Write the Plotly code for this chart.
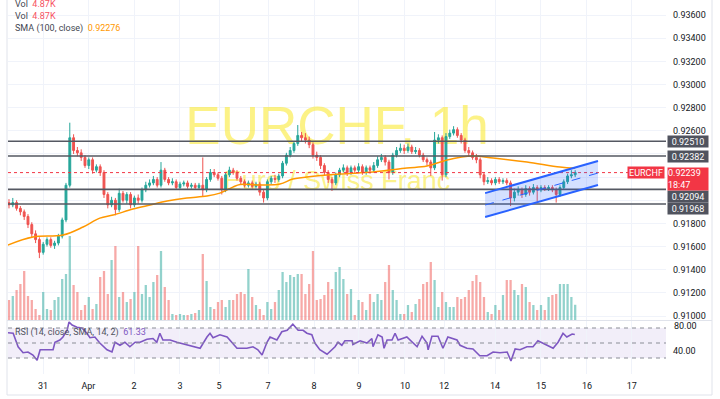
import plotly.graph_objects as go

# ---------------- data ----------------
tick_pos = [8.95, 20.9, 32.9, 45.0, 55.3, 68.2, 80.3, 92.1, 104.2, 114.5, 127.9, 140.0, 152.1, 163.9]
tick_text = ["31", "Apr", "2", "3", "5", "7", "8", "9", "10", "12", "14", "15", "16", "17"]

opens = [0.9198, 0.9196, 0.9198, 0.9193, 0.9190, 0.9186, 0.9179, 0.9171, 0.9166, 0.9155,
         0.9162, 0.9166, 0.9161, 0.9163, 0.9169, 0.9183, 0.9213, 0.9254, 0.9243, 0.9241,
         0.9237, 0.9230, 0.9235, 0.9226, 0.9229, 0.9224, 0.9205, 0.9196, 0.9200, 0.9192,
         0.9206, 0.9200, 0.9205, 0.9196, 0.9202, 0.9200, 0.9209, 0.9213, 0.9215, 0.9218,
         0.9213, 0.9226, 0.9218, 0.9215, 0.9216, 0.9211, 0.9214, 0.9215, 0.9212, 0.9213,
         0.9211, 0.9213, 0.9209, 0.9218, 0.9224, 0.9222, 0.9219, 0.9209, 0.9222, 0.9226,
         0.9224, 0.9219, 0.9216, 0.9213, 0.9215, 0.9212, 0.9214, 0.9207, 0.9202, 0.9216,
         0.9219, 0.9218, 0.9221, 0.9232, 0.9239, 0.9243, 0.9249, 0.9256, 0.9254, 0.9252,
         0.9248, 0.9239, 0.9237, 0.9230, 0.9224, 0.9218, 0.9215, 0.9222, 0.9226, 0.9228,
         0.9224, 0.9228, 0.9226, 0.9229, 0.9224, 0.9228, 0.9226, 0.9230, 0.9235, 0.9237,
         0.9233, 0.9224, 0.9239, 0.9243, 0.9245, 0.9243, 0.9246, 0.9242, 0.9243, 0.9239,
         0.9235, 0.9233, 0.9228, 0.9252, 0.9254, 0.9222, 0.9255, 0.9258, 0.9261, 0.9256,
         0.9252, 0.9243, 0.9241, 0.9237, 0.9235, 0.9222, 0.9216, 0.9217, 0.9215, 0.9218,
         0.9216, 0.9217, 0.9215, 0.9202, 0.9207, 0.9209, 0.9205, 0.9210, 0.9207, 0.9211,
         0.9209, 0.9211, 0.9210, 0.9211, 0.9209, 0.9205, 0.9211, 0.9216, 0.9221, 0.9222]

highs = [0.9201, 0.9202, 0.9200, 0.9195, 0.9192, 0.9188, 0.9181, 0.9174, 0.9168, 0.9164,
         0.9168, 0.9168, 0.9165, 0.9171, 0.9185, 0.9215, 0.9267, 0.9257, 0.9246, 0.9244,
         0.9239, 0.9237, 0.9237, 0.9231, 0.9231, 0.9226, 0.9207, 0.9203, 0.9202, 0.9210,
         0.9208, 0.9207, 0.9207, 0.9204, 0.9205, 0.9211, 0.9216, 0.9218, 0.9221, 0.9220,
         0.9233, 0.9228, 0.9220, 0.9219, 0.9218, 0.9216, 0.9217, 0.9217, 0.9215, 0.9215,
         0.9215, 0.9237, 0.9220, 0.9227, 0.9227, 0.9224, 0.9221, 0.9224, 0.9229, 0.9228,
         0.9226, 0.9221, 0.9218, 0.9217, 0.9217, 0.9216, 0.9216, 0.9209, 0.9218, 0.9221,
         0.9222, 0.9223, 0.9234, 0.9241, 0.9246, 0.9251, 0.9265, 0.9259, 0.9258, 0.9255,
         0.9250, 0.9242, 0.9239, 0.9232, 0.9226, 0.9220, 0.9224, 0.9228, 0.9231, 0.9230,
         0.9230, 0.9230, 0.9232, 0.9231, 0.9230, 0.9230, 0.9233, 0.9238, 0.9240, 0.9239,
         0.9235, 0.9241, 0.9246, 0.9249, 0.9248, 0.9249, 0.9248, 0.9246, 0.9245, 0.9241,
         0.9237, 0.9235, 0.9259, 0.9257, 0.9256, 0.9258, 0.9261, 0.9264, 0.9263, 0.9258,
         0.9254, 0.9246, 0.9243, 0.9240, 0.9237, 0.9224, 0.9220, 0.9219, 0.9220, 0.9220,
         0.9219, 0.9219, 0.9217, 0.9210, 0.9212, 0.9211, 0.9213, 0.9212, 0.9214, 0.9213,
         0.9213, 0.9213, 0.9213, 0.9213, 0.9211, 0.9213, 0.9218, 0.9223, 0.9226, 0.9226]

lows = [0.9193, 0.9194, 0.9191, 0.9187, 0.9183, 0.9176, 0.9168, 0.9163, 0.9150, 0.9153,
        0.9160, 0.9159, 0.9158, 0.9161, 0.9167, 0.9181, 0.9211, 0.9240, 0.9238, 0.9234,
        0.9228, 0.9227, 0.9223, 0.9224, 0.9221, 0.9202, 0.9193, 0.9194, 0.9187, 0.9190,
        0.9198, 0.9197, 0.9193, 0.9194, 0.9197, 0.9198, 0.9207, 0.9211, 0.9213, 0.9211,
        0.9211, 0.9216, 0.9213, 0.9213, 0.9209, 0.9209, 0.9212, 0.9210, 0.9210, 0.9209,
        0.9209, 0.9203, 0.9207, 0.9216, 0.9220, 0.9217, 0.9205, 0.9207, 0.9220, 0.9222,
        0.9217, 0.9214, 0.9211, 0.9211, 0.9210, 0.9210, 0.9204, 0.9198, 0.9200, 0.9214,
        0.9215, 0.9216, 0.9219, 0.9230, 0.9237, 0.9241, 0.9247, 0.9251, 0.9249, 0.9245,
        0.9236, 0.9234, 0.9227, 0.9221, 0.9215, 0.9208, 0.9213, 0.9220, 0.9224, 0.9221,
        0.9222, 0.9223, 0.9224, 0.9222, 0.9222, 0.9223, 0.9224, 0.9228, 0.9233, 0.9230,
        0.9218, 0.9222, 0.9237, 0.9241, 0.9240, 0.9241, 0.9240, 0.9240, 0.9237, 0.9233,
        0.9230, 0.9221, 0.9226, 0.9249, 0.9217, 0.9220, 0.9253, 0.9256, 0.9254, 0.9249,
        0.9241, 0.9238, 0.9235, 0.9232, 0.9219, 0.9213, 0.9214, 0.9213, 0.9213, 0.9214,
        0.9214, 0.9213, 0.9195, 0.9199, 0.9204, 0.9202, 0.9203, 0.9204, 0.9205, 0.9199,
        0.9207, 0.9208, 0.9208, 0.9207, 0.9198, 0.9203, 0.9209, 0.9214, 0.9219, 0.9220]

closes = [0.9196, 0.9198, 0.9193, 0.9190, 0.9186, 0.9179, 0.9171, 0.9166, 0.9155, 0.9162,
          0.9166, 0.9161, 0.9163, 0.9169, 0.9183, 0.9213, 0.9254, 0.9243, 0.9241, 0.9237,
          0.9230, 0.9235, 0.9226, 0.9229, 0.9224, 0.9205, 0.9196, 0.9200, 0.9192, 0.9206,
          0.9200, 0.9205, 0.9196, 0.9202, 0.9200, 0.9209, 0.9213, 0.9215, 0.9218, 0.9213,
          0.9226, 0.9218, 0.9215, 0.9216, 0.9211, 0.9214, 0.9215, 0.9212, 0.9213, 0.9211,
          0.9213, 0.9209, 0.9218, 0.9224, 0.9222, 0.9219, 0.9209, 0.9222, 0.9226, 0.9224,
          0.9219, 0.9216, 0.9213, 0.9215, 0.9212, 0.9214, 0.9207, 0.9202, 0.9216, 0.9219,
          0.9218, 0.9221, 0.9232, 0.9239, 0.9243, 0.9249, 0.9256, 0.9254, 0.9252, 0.9248,
          0.9239, 0.9237, 0.9230, 0.9224, 0.9218, 0.9215, 0.9222, 0.9226, 0.9228, 0.9224,
          0.9228, 0.9226, 0.9229, 0.9224, 0.9228, 0.9226, 0.9230, 0.9235, 0.9237, 0.9233,
          0.9224, 0.9239, 0.9243, 0.9245, 0.9243, 0.9246, 0.9242, 0.9243, 0.9239, 0.9235,
          0.9233, 0.9228, 0.9252, 0.9254, 0.9222, 0.9255, 0.9258, 0.9261, 0.9256, 0.9252,
          0.9243, 0.9241, 0.9237, 0.9235, 0.9222, 0.9216, 0.9217, 0.9215, 0.9218, 0.9216,
          0.9217, 0.9215, 0.9202, 0.9207, 0.9209, 0.9205, 0.9210, 0.9207, 0.9211, 0.9209,
          0.9211, 0.9210, 0.9211, 0.9209, 0.9205, 0.9211, 0.9216, 0.9221, 0.9222, 0.92239]

volumes = [6.3, 7.5, 9.3, 11.1, 15.0, 7.5, 6.3, 3.6, 1.8, 8.7,
           3.6, 3.3, 6.3, 7.2, 12.6, 14.1, 25.5, 10.8, 8.7, 3.3,
           4.8, 7.2, 3.6, 5.1, 13.2, 15.0, 8.1, 18.3, 22.5, 7.2,
           8.7, 5.7, 6.6, 8.7, 22.5, 8.1, 10.8, 7.2, 11.7, 13.8,
           21.0, 10.2, 6.3, 2.1, 1.8, 2.1, 1.8, 1.8, 2.1, 2.4,
           3.3, 20.1, 12.0, 4.2, 3.6, 5.7, 6.3, 4.2, 6.3, 6.3,
           8.1, 8.7, 8.1, 15.6, 7.2, 4.8, 3.6, 1.8, 5.7, 3.6,
           5.7, 9.3, 14.7, 11.7, 13.8, 13.2, 14.1, 14.1, 8.1, 11.1,
           21.0, 6.3, 6.6, 7.8, 11.7, 9.6, 14.7, 16.2, 12.6, 8.1,
           9.6, 1.8, 6.3, 5.7, 3.3, 8.1, 5.7, 8.1, 6.3, 11.7,
           16.8, 9.3, 6.3, 2.1, 2.1, 4.8, 2.7, 5.1, 6.6, 11.1,
           11.7, 17.7, 12.3, 4.2, 8.7, 5.7, 4.2, 4.2, 7.2, 6.6,
           7.2, 9.3, 12.0, 13.8, 11.7, 7.2, 2.7, 2.1, 4.8, 3.3,
           7.8, 12.3, 12.3, 9.3, 7.8, 11.1, 10.2, 5.7, 4.8, 3.3,
           4.8, 3.3, 7.2, 7.8, 8.1, 11.1, 11.1, 11.1, 7.2, 4.87]

sma_x = [-0.3, 6.3, 14.2, 19.5, 23.9, 27.4, 32.6, 37.1, 41.6, 46.8, 52.1, 55.5, 58.9, 60.8,
         66.1, 71.3, 74.7, 78.4, 87.1, 95.8, 104.7, 110.0, 115.3, 122.1, 127.4, 136.3, 145.0, 149.0]
sma_vals = [0.91613, 0.91682, 0.91700, 0.91769, 0.91846, 0.91872, 0.91924, 0.91959, 0.91993,
            0.92019, 0.92036, 0.92062, 0.92114, 0.92136, 0.92132, 0.92140, 0.92183, 0.92201,
            0.92227, 0.92244, 0.92278, 0.92296, 0.92348, 0.92382, 0.92365, 0.92330, 0.92287, 0.92276]

rsi_x = [-0.3, 1.1, 2.4, 3.7, 5.0, 6.3, 7.4, 7.6, 8.2, 10.0, 11.6, 12.1, 13.4, 14.2, 15.3, 15.8,
         16.6, 17.9, 19.2, 20.5, 21.3, 22.6, 23.9, 25.8, 27.1, 27.9, 29.2, 30.5, 31.8, 33.2, 34.5,
         36.3, 37.9, 38.9, 39.7, 40.5, 42.4, 44.2, 45.0, 48.4, 50.3, 52.1, 52.9, 53.7, 55.5, 57.4,
         58.9, 60.0, 62.6, 64.2, 65.5, 66.6, 67.9, 68.7, 70.5, 71.8, 73.2, 74.7, 76.1, 77.4, 78.4,
         79.7, 80.5, 81.8, 83.7, 85.0, 85.8, 86.6, 87.6, 88.4, 90.3, 90.5, 92.4, 94.2, 95.5, 95.8,
         97.1, 98.2, 98.7, 99.5, 100.8, 101.6, 102.4, 104.7, 107.4, 108.7, 110.0, 110.3, 111.3,
         112.9, 114.2, 115.5, 117.9, 118.7, 120.5, 122.1, 123.9, 125.8, 127.4, 129.2, 131.1, 132.1,
         133.2, 134.5, 136.3, 137.9, 139.2, 141.6, 143.2, 144.5, 145.8, 146.8, 148.2, 148.9]
rsi_vals = [63.7, 63, 45, 37, 38, 34, 27, 30, 41, 41, 41, 51, 54, 58, 67, 78,
            74, 71, 70, 63, 57, 58, 50, 41, 38, 51, 47, 51, 45, 51, 51,
            55, 56, 51, 63, 54, 54, 51, 50, 45, 43, 58, 63, 57, 61, 58,
            50, 43, 43, 45, 41, 34, 51, 58, 54, 65, 67, 75, 67, 67, 63,
            61, 50, 41, 35, 41, 45, 51, 47, 53, 53, 48, 53, 50, 56, 45,
            61, 58, 43, 54, 54, 63, 54, 58, 45, 59, 50, 41, 59,
            59, 43, 58, 54, 47, 43, 42, 33, 33, 38, 37, 38, 26,
            42, 41, 45, 45, 53, 47, 43, 51, 63, 58, 62, 61.33]

levels = [0.92510, 0.92382, 0.92094, 0.91968]
level_label_shift = [0, 0, -7, -5]
last_price = 0.92239
price_ticks = [0.910, 0.912, 0.914, 0.916, 0.918, 0.920, 0.922, 0.924, 0.926, 0.928,
               0.930, 0.932, 0.934, 0.936]
price_tick_text = ["0.91000", "0.91200", "0.91400", "0.91600", "0.91800", "", "", "",
                   "0.92600", "0.92800", "0.93000", "0.93200", "0.93400", "0.93600"]
channel_x = [125.3, 155.0]
channel_upper = [0.92062, 0.92339]
channel_lower = [0.91855, 0.92132]
channel_mid = [0.91959, 0.92235]

# ---------------- layout geometry ----------------
W, H = 720, 399
ML, MR, MT, MB = 8, 54, 0, 25
PW, PH = W - ML - MR, H - MT - MB          # 658 x 374
SPLIT_PX = 321                              # price / RSI pane boundary
XR = [-0.26, 172.9]
PR = [0.90957, 0.93730]
VOL_TOP = 96.3
RSI_R = [8.67, 79.33]

def pyp(p):   # pixel y -> paper
    return (PH - (p - MT)) / PH

def pxp(p):   # pixel x -> paper
    return (p - ML) / PW

def x_at(p):  # pixel x -> data x
    return XR[0] + (p - ML) / PW * (XR[1] - XR[0])

def v_at(p):  # pixel y -> volume-axis value
    return VOL_TOP * (SPLIT_PX - p) / SPLIT_PX

UP, DN = "#26a69a", "#ef5350"
FONT = "Roboto, Liberation Sans, Arial, sans-serif"

xs = list(range(len(closes)))
vol_colors = ["rgba(38,166,154,0.5)" if c >= o else "rgba(239,83,80,0.5)" for o, c in zip(opens, closes)]

fig = go.Figure()

# watermark (on base axis, so it sits beneath the candles)
fig.add_trace(go.Scatter(x=[x_at(337)], y=[v_at(131)], mode="text", text=["EURCHF, 1h"],
                         textfont=dict(size=53, color="rgba(250,234,60,0.62)",
                                       family="Liberation Sans, Arial"),
                         xaxis="x", yaxis="y", hoverinfo="skip"))
fig.add_trace(go.Scatter(x=[x_at(337)], y=[v_at(183)], mode="text", text=["Euro / Swiss Franc"],
                         textfont=dict(size=27, color="rgba(250,234,60,0.62)",
                                       family="Liberation Sans, Arial"),
                         xaxis="x", yaxis="y", hoverinfo="skip"))

# volume
fig.add_trace(go.Bar(x=xs, y=volumes, marker=dict(color=vol_colors, line=dict(width=0)),
                     width=0.6, xaxis="x", yaxis="y", hoverinfo="skip"))

# candles
fig.add_trace(go.Candlestick(x=xs, open=opens, high=highs, low=lows, close=closes,
                             increasing=dict(line=dict(color=UP, width=1), fillcolor=UP),
                             decreasing=dict(line=dict(color=DN, width=1), fillcolor=DN),
                             whiskerwidth=0, xaxis="x", yaxis="y2", hoverinfo="skip"))

# SMA 100
fig.add_trace(go.Scatter(x=sma_x, y=sma_vals, mode="lines", line=dict(color="#ff9800", width=1.5, shape="spline"),
                         xaxis="x", yaxis="y2", hoverinfo="skip"))

# RSI
fig.add_trace(go.Scatter(x=rsi_x, y=rsi_vals, mode="lines", line=dict(color="#7e57c2", width=1.6),
                         xaxis="x", yaxis="y3", hoverinfo="skip"))

shapes = []
# RSI band and dashed levels
shapes.append(dict(type="rect", xref="paper", yref="y3", x0=0, x1=1, y0=30, y1=70,
                   fillcolor="rgba(126,87,194,0.10)", line=dict(width=0), layer="below"))
for lv in (70, 50, 30):
    shapes.append(dict(type="line", xref="paper", yref="y3", x0=0, x1=1, y0=lv, y1=lv,
                       line=dict(color="#8a8d96", width=1, dash="4px,4px")))
# horizontal price levels
for lv in levels:
    shapes.append(dict(type="line", xref="paper", yref="y2", x0=0, x1=1, y0=lv, y1=lv,
                       line=dict(color="#555862", width=1.6)))
# last price dotted line
shapes.append(dict(type="line", xref="paper", yref="y2", x0=0, x1=pxp(629), y0=last_price, y1=last_price,
                   line=dict(color="#f23645", width=1, dash="dot")))
# channel
shapes.append(dict(type="path", xref="x", yref="y2",
                   path=f"M {channel_x[0]},{channel_lower[0]} L {channel_x[1]},{channel_lower[1]} "
                        f"L {channel_x[1]},{channel_upper[1]} L {channel_x[0]},{channel_upper[0]} Z",
                   fillcolor="rgba(41,98,255,0.2)", line=dict(width=0)))
for arr, dash, wdt in ((channel_upper, "solid", 2), (channel_lower, "solid", 2), (channel_mid, "dash", 1)):
    shapes.append(dict(type="line", xref="x", yref="y2", x0=channel_x[0], x1=channel_x[1],
                       y0=arr[0], y1=arr[1], line=dict(color="#2962ff", width=wdt, dash=dash)))
# pane separator and frame
shapes.append(dict(type="line", xref="paper", yref="paper", x0=pxp(7), x1=pxp(712),
                   y0=pyp(320.5), y1=pyp(320.5), line=dict(color="#e0e3eb", width=1)))
shapes.append(dict(type="rect", xref="paper", yref="paper", x0=pxp(7), x1=pxp(712),
                   y0=pyp(395), y1=pyp(-10), line=dict(color="#e0e3eb", width=1)))

ann = []
# legends
ann.append(dict(xref="paper", yref="paper", x=pxp(13), y=pyp(4), xanchor="left", yanchor="middle",
                text='Vol  <span style="color:#f7525f">4.87K</span>', showarrow=False,
                font=dict(size=9, color="#434651", family=FONT)))
ann.append(dict(xref="paper", yref="paper", x=pxp(13), y=pyp(15.5), xanchor="left", yanchor="middle",
                text='Vol  <span style="color:#f7525f">4.87K</span>', showarrow=False,
                font=dict(size=9, color="#434651", family=FONT)))
ann.append(dict(xref="paper", yref="paper", x=pxp(13), y=pyp(28.7), xanchor="left", yanchor="middle",
                text='SMA (100, close)  <span style="color:#ff9800">0.92276</span>', showarrow=False,
                font=dict(size=9, color="#434651", family=FONT)))
ann.append(dict(xref="paper", yref="paper", x=pxp(13), y=pyp(332), xanchor="left", yanchor="middle",
                text='RSI (14, close, SMA, 14, 2)  <span style="color:#7e57c2">61.33</span>', showarrow=False,
                font=dict(size=9, color="#50535e", family=FONT)))
# level labels on price scale
for lv, sh in zip(levels, level_label_shift):
    ann.append(dict(xref="paper", yref="y2", x=1, y=lv, xanchor="left", yanchor="middle", xshift=1, yshift=sh,
                    text=f"{lv:.5f}", showarrow=False, bgcolor="#50535e", width=40, height=11, borderpad=0,
                    font=dict(size=9, color="white", family=FONT)))
# current price label
ann.append(dict(xref="paper", yref="y2", x=1, y=last_price, xanchor="left", yanchor="top", xshift=1, yshift=6,
                text=f"{last_price:.5f}<br>18:47", showarrow=False, bgcolor="#f23645", width=40, height=22,
                borderpad=0, align="left", font=dict(size=9, color="white", family=FONT)))
ann.append(dict(xref="paper", yref="y2", x=1, y=last_price, xanchor="right", yanchor="middle", xshift=-1,
                text="EURCHF", showarrow=False, bgcolor="#f23645", width=36, height=11, borderpad=0,
                font=dict(size=9, color="white", family=FONT)))
# 80.00 RSI label at the pane boundary
ann.append(dict(xref="paper", yref="paper", x=1, y=pyp(326), xanchor="left", yanchor="middle", xshift=6,
                text="80.00", showarrow=False, font=dict(size=9, color="#131722", family=FONT)))

split = pyp(SPLIT_PX)
fig.update_layout(
    width=W, height=H, margin=dict(l=ML, r=MR, t=MT, b=MB),
    paper_bgcolor="white", plot_bgcolor="white", showlegend=False, hovermode=False,
    font=dict(family=FONT, size=9, color="#131722"),
    xaxis=dict(range=XR, tickvals=tick_pos, ticktext=tick_text, showgrid=True, gridcolor="#f0f3fa",
               zeroline=False, showline=False, ticks="", anchor="y3", rangeslider=dict(visible=False),
               ticklabelstandoff=5, tickfont=dict(size=9, color="#131722")),
    yaxis=dict(domain=[split, 1], range=[0, VOL_TOP], visible=False, showgrid=False, zeroline=False),
    yaxis2=dict(overlaying="y", side="right", range=PR, tickvals=price_ticks, ticktext=price_tick_text,
                showgrid=True, gridcolor="#f0f3fa", zeroline=False, showline=False, ticks="",
                ticklabelstandoff=6, tickfont=dict(size=9, color="#131722"), anchor="x"),
    yaxis3=dict(domain=[0, split], side="right", range=RSI_R, tickvals=[40], ticktext=["40.00"],
                showgrid=False, zeroline=False, showline=False, ticks="", anchor="x",
                ticklabelstandoff=6, tickfont=dict(size=9, color="#131722")),
    shapes=shapes, annotations=ann,
)

fig.write_html("out.html")
